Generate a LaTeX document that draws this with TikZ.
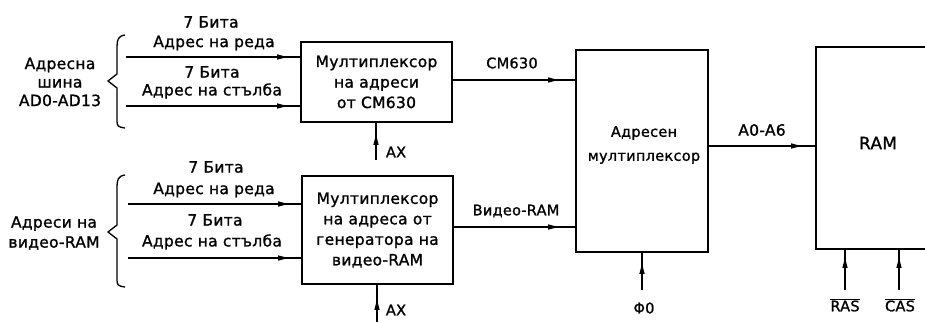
\documentclass[tikz,border=0pt]{standalone}
\usepackage{fontspec}
\setmainfont{DejaVu Sans}[LetterSpace=2,FakeBold=1.2]
\usetikzlibrary{arrows.meta}
\newcommand\dfont{\fontsize{15.5}{20.5}\selectfont}
\newcommand\sfont{\fontsize{14.5}{20}\selectfont}
\newcommand\ovl[1]{$\overline{\mbox{#1}}$}
\begin{document}
\begin{tikzpicture}[x=1pt,y=-1pt,
  txt/.style={font=\dfont, inner sep=0pt, anchor=center},
  box/.style={draw, line width=1.8pt, inner sep=0pt},
  ln/.style={line width=1.3pt},
  midarr/.style={postaction={draw, line width=1.3pt, -{Latex[length=13pt,width=5.5pt]}, shorten >=#1}},
  midarr/.default=10pt]
\clip (0,0) rectangle (925,322);
\fill[white] (0,0) rectangle (925,322);
% boxes
\node[box, minimum width=151pt, minimum height=80pt, align=center, font=\dfont] (m1) at (376.5,82) {Мултиплексор\\на адреси\\от СМ630};
\node[box, minimum width=151pt, minimum height=108pt, align=center, font=\dfont] (m2) at (377.5,230) {Мултиплексор\\на адреса от\\генератора на\\видео-RAM};
\node[box, minimum width=132pt, minimum height=202pt] (am) at (642,151) {};
\node[txt, align=center, font=\fontsize{14.5}{24}\selectfont] (amt) at (644,145) {Адресен\\мултиплексор};
\node[box, minimum width=124pt, minimum height=202pt] (ram) at (878,148) {};
\node[txt, font=\fontsize{17}{20}\selectfont] (ramt) at (878,143) {RAM};
% left labels
\node[txt, align=center, font=\fontsize{15.5}{18.5}\selectfont] (bus) at (60,82) {Адресна\\шина\\AD0-AD13};
\node[txt, align=center, font=\fontsize{15.5}{20}\selectfont] (vbus) at (54,233) {Адреси на\\видео-RAM};
% braces
\draw[ln] (125,35) .. controls (118,36) and (117,40) .. (117,47) -- (117,74) -- (108,81) -- (117,88) -- (117,121) .. controls (117,126) and (118,127) .. (125,128);
\draw[ln] (125,175) .. controls (118,176) and (117,180) .. (117,187) -- (117,225) -- (108,232) -- (117,239) -- (117,280) .. controls (117,285) and (118,286) .. (125,287);
% top inputs
\node[txt] (l1) at (211,22) {7 Бита};
\node[txt] (l2) at (214,43) {Адрес на реда};
\node[txt] (l3) at (212,72) {7 Бита};
\node[txt] (l4) at (212,91) {Адрес на стълба};
\coordinate (a1) at (126,57);
\coordinate (a2) at (126,106);
\draw[ln, midarr] (a1) -- (a1 -| m1.west);
\draw[ln, midarr] (a2) -- (a2 -| m1.west);
% bottom inputs
\node[txt] (l5) at (216,167) {7 Бита};
\node[txt] (l6) at (214,190) {Адрес на реда};
\node[txt] (l7) at (215,220) {7 Бита};
\node[txt] (l8) at (212,242) {Адрес на стълба};
\coordinate (b1) at (128,204);
\coordinate (b2) at (128,258);
\draw[ln, midarr] (b1) -- (b1 -| m2.west);
\draw[ln, midarr] (b2) -- (b2 -| m2.west);
% mux outputs
\coordinate (o1) at (m1.east |- 0,80);
\coordinate (o2) at (m2.east |- 0,227);
\draw[ln, midarr=14pt] (o1) -- (o1 -| am.west);
\draw[ln, midarr=14pt] (o2) -- (o2 -| am.west);
\node[txt, font=\sfont] (cm) at (512,63) {СМ630};
\node[txt, font=\sfont] (vr) at (516,211) {Видео-RAM};
% address mux to RAM
\coordinate (o3) at (am.east |- 0,146);
\draw[ln, midarr=11pt] (o3) -- (o3 -| ram.west);
\node[txt] (aa) at (762,130) {A0-A6};
% control inputs
\coordinate (ax1) at (376,160);
\draw[ln, midarr=9pt] (ax1) -- (ax1 |- m1.south);
\node[txt, font=\sfont] (axl1) at (396,152) {AX};
\coordinate (ax2) at (377,322);
\draw[ln, midarr=12pt] (ax2) -- (ax2 |- m2.south);
\node[txt, font=\sfont] (axl2) at (396,310) {AX};
\coordinate (ph) at (642,290);
\draw[ln, midarr=8pt] (ph) -- (ph |- am.south);
\node[txt, font=\sfont] (phl) at (644,308) {Φ0};
\coordinate (ras) at (845,290);
\draw[ln, midarr=5pt] (ras) -- (ras |- ram.south);
\node[txt, font=\sfont] (rasl) at (845,305) {\ovl{RAS}};
\coordinate (cas) at (899,290);
\draw[ln, midarr=5pt] (cas) -- (cas |- ram.south);
\node[txt, font=\sfont] (casl) at (900,305) {\ovl{CAS}};
\end{tikzpicture}
\end{document}
